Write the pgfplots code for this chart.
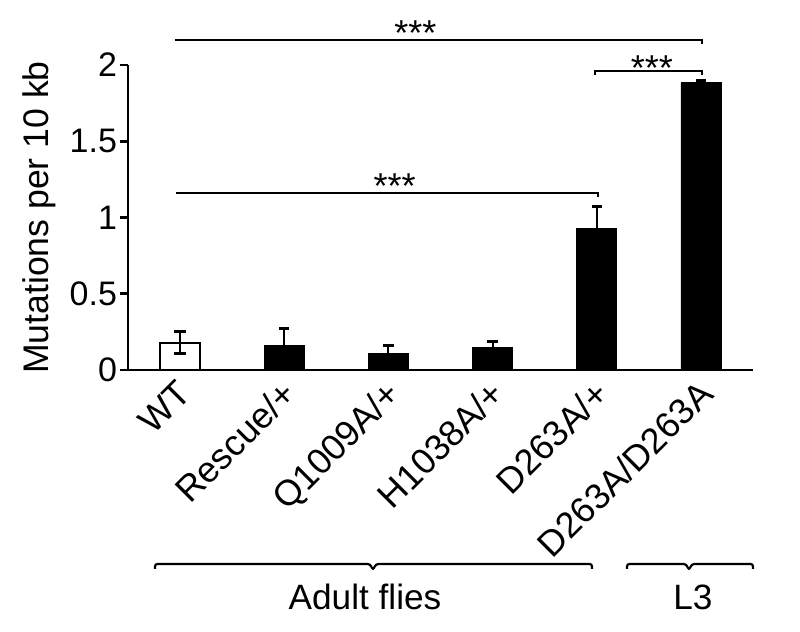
\documentclass[border=0pt]{standalone}
\usepackage{fontspec}
\setmainfont{Liberation Sans}
\usepackage{pgfplots}
\pgfplotsset{compat=1.18}

\pgfplotstableread{
x y e
1 0.16 0.11
2 0.11 0.05
3 0.15 0.04
4 0.93 0.145
5 1.885 0.015
}\mutants

\begin{document}
\begin{tikzpicture}
\useasboundingbox (-64pt,-131pt) rectangle (336pt,185pt);
\begin{axis}[
    width=312.5pt, height=152.5pt, scale only axis,
    xmin=-0.5, xmax=5.5, ymin=0, ymax=2,
    axis x line*=bottom, axis y line*=left,
    axis line style={line width=1.3pt},
    ytick={0,0.5,1,1.5,2},
    yticklabels={0,0.5,1,1.5,2},
    ytick style={line width=1.3pt, black},
    tick align=outside, major tick length=4pt,
    xtick={0,...,5}, xtick style={draw=none},
    xticklabels={WT,Rescue/+,Q1009A/+,H1038A/+,D263A/+,D263A/D263A},
    xticklabel style={rotate=45, anchor=north east, xshift=2pt, yshift=5pt,
        font=\fontsize{18}{20}\selectfont},
    yticklabel style={xshift=2pt, font=\fontsize{17}{20}\selectfont},
    ylabel={Mutations per 10 kb},
    ylabel style={font=\fontsize{17.8}{20}\selectfont},
    clip=false,
    ybar, bar width=20pt, bar shift=0pt,
    error bars/error mark=|,
]
% WT, open bar
\addplot[fill=white, draw=black, line width=1pt,
    error bars/.cd, y dir=both, y explicit,
    error bar style={line width=1pt, black},
    error mark options={line width=1.5pt, mark size=2.8pt, black}]
    coordinates {(0,0.18) +- (0,0.07)};
% mutants, filled bars
\addplot[fill=black, draw=black,
    error bars/.cd, y dir=both, y explicit,
    error bar style={line width=1pt, black},
    error mark options={line width=1.5pt, mark size=2.6pt, black}]
    table[x=x, y=y, y error=e] {\mutants};

% significance
\draw[line width=1.1pt] (axis cs:-0.05,2.164) -- (axis cs:5.01,2.164) -- ([yshift=-2pt]axis cs:5.01,2.164);
\node[anchor=base, font=\fontsize{18}{20}\selectfont] at (axis cs:2.26,2.13) {***};
\draw[line width=1.1pt] (axis cs:-0.04,1.159) -- (axis cs:4.01,1.159) -- ([yshift=-2pt]axis cs:4.01,1.159);
\node[anchor=base, font=\fontsize{18}{20}\selectfont] at (axis cs:2.06,1.125) {***};
\draw[line width=1.1pt] ([yshift=-2pt]axis cs:3.98,1.96) -- (axis cs:3.98,1.96) -- (axis cs:5.01,1.96) -- ([yshift=-2pt]axis cs:5.01,1.96);
\node[anchor=base, font=\fontsize{18}{20}\selectfont] at (axis cs:4.53,1.9) {***};
\end{axis}

% group brackets
\draw[line width=1.1pt, rounded corners=1.2pt] (13.5pt,-99.5pt) -- (13.5pt,-97pt) -- (121pt,-97pt)
    -- (122.5pt,-100pt) -- (124pt,-97pt) -- (232pt,-97pt) -- (232pt,-99.5pt);
\node[font=\fontsize{17.6}{20}\selectfont] at (118.5pt,-113.5pt) {Adult flies};
\draw[line width=1.1pt, rounded corners=1.2pt] (249.5pt,-99.5pt) -- (249.5pt,-97pt) -- (279pt,-97pt)
    -- (280.5pt,-100pt) -- (282pt,-97pt) -- (312.5pt,-97pt) -- (312.5pt,-99.5pt);
\node[font=\fontsize{17.6}{20}\selectfont] at (282.5pt,-113.5pt) {L3};
\end{tikzpicture}
\end{document}
